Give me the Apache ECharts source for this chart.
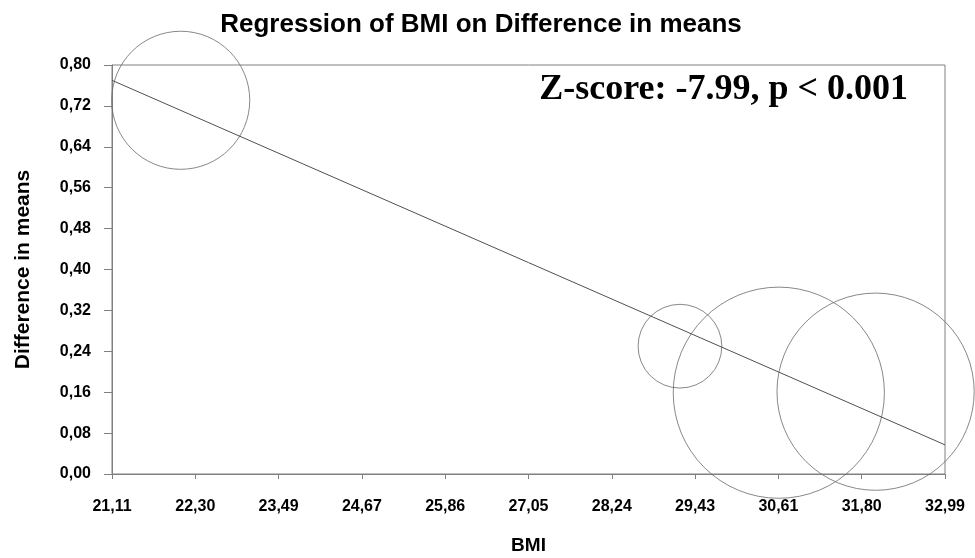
<!DOCTYPE html>
<html><head><meta charset="utf-8">
<script src="https://cdn.jsdelivr.net/npm/echarts@6/dist/echarts.min.js"></script>
<style>html,body{margin:0;padding:0;background:#fff}#c{width:975px;height:558px}</style>
</head><body><div id="c"></div>
<script>
// ---- data ----
var xTickLabels = ['21,11','22,30','23,49','24,67','25,86','27,05','28,24','29,43','30,61','31,80','32,99'];
var xMin = 21.11, xMax = 32.99;
var studyBMI = [22.09, 29.21, 30.62, 32.00];
var studyDiff = [0.731, 0.250, 0.159, 0.161];
var studyWeight = [17.4, 6.4, 40.7, 35.5];
var regLineBMI = [21.11, 32.99];
var regLineDiff = [0.770, 0.057];

var xStep = (xMax - xMin) / (xTickLabels.length - 1);
var chart = echarts.init(document.getElementById('c'));
var scatterData = studyBMI.map(function (b, i) { return [b - xMin, studyDiff[i], studyWeight[i]]; });
var lineData = regLineBMI.map(function (b, i) { return [b - xMin, regLineDiff[i]]; });
var lblFont = { fontFamily: 'Liberation Sans, Arial, sans-serif', fontWeight: 'bold', fontSize: 16, color: '#000' };

chart.setOption({
  animation: false,
  backgroundColor: '#fff',
  title: [{
    text: 'Regression of BMI on Difference in means',
    left: 476, top: 7, textAlign: 'center',
    textStyle: { fontFamily: 'Liberation Sans, Arial, sans-serif', fontWeight: 'bold', fontSize: 26, color: '#000' }
  }, {
    text: 'Z-score: -7.99, p < 0.001',
    right: 62, top: 67,
    textStyle: { fontFamily: 'Liberation Serif, Times New Roman, serif', fontWeight: 'bold', fontSize: 36, color: '#000' }
  }],
  grid: { left: 112, right: 30, top: 65, bottom: 84, containLabel: false, outerBoundsMode: 'none',
          show: true, borderColor: '#808080', borderWidth: 1 },
  xAxis: {
    type: 'value', min: 0, max: xMax - xMin, interval: xStep,
    name: 'BMI', nameLocation: 'middle', nameGap: 62,
    nameTextStyle: { fontFamily: 'Liberation Sans, Arial, sans-serif', fontWeight: 'bold', fontSize: 19, color: '#000' },
    axisLine: { lineStyle: { color: '#808080' } },
    axisTick: { length: 5, lineStyle: { color: '#808080' } },
    splitLine: { show: false },
    axisLabel: Object.assign({ margin: 25, formatter: function (v) { return xTickLabels[Math.round(v / xStep)]; } }, lblFont)
  },
  yAxis: {
    type: 'value', min: 0, max: 0.8, interval: 0.08,
    name: 'Difference in means', nameLocation: 'middle', nameGap: 78,
    nameTextStyle: { fontFamily: 'Liberation Sans, Arial, sans-serif', fontWeight: 'bold', fontSize: 21, color: '#000' },
    axisLine: { show: true, lineStyle: { color: '#808080' } },
    axisTick: { show: true, length: 8, lineStyle: { color: '#808080' } },
    splitLine: { show: false },
    axisLabel: Object.assign({ margin: 21, formatter: function (v) { return v.toFixed(2).replace('.', ','); } }, lblFont)
  },
  series: [{
    type: 'line', data: lineData, symbol: 'none', clip: false,
    lineStyle: { color: '#505050', width: 1 }
  }, {
    type: 'scatter', data: scatterData, clip: false,
    symbol: 'circle',
    symbolSize: function (d) { return 33.1 * Math.sqrt(d[2]); },
    itemStyle: { color: 'rgba(0,0,0,0)', borderColor: '#6a6a6a', borderWidth: 1 }
  }]
});
</script></body></html>
